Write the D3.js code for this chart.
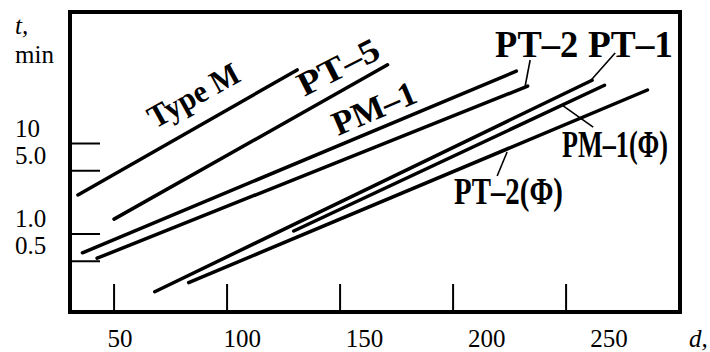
<!DOCTYPE html>
<html>
<head>
<meta charset="utf-8">
<script src="https://cdn.jsdelivr.net/npm/d3@7"></script>
<style>
  body { margin: 0; background: #fff; }
  svg { display: block; font-family: 'Liberation Serif', 'Times New Roman', serif; }
</style>
</head>
<body>
<svg width="710" height="352"></svg>
<script>
// d on x, t in minutes (log) on y
var series = ['Type M', 'PT-5', 'PM-1', 'PT-2', 'PT-1', 'PM-1(F)', 'PT-2(F)'];
var typeM  = [[34, 2.7],   [131, 65]];
var pt5    = [[50, 1.46],  [171, 74]];
var pm1    = [[36, 0.62],  [228, 63]];
var pt2    = [[42.5, 0.54],[233, 43]];
var pt1    = [[68, 0.23],  [261.5, 50]];
var pm1f   = [[129.5, 1.08],[267, 44]];
var pt2f   = [[83, 0.29],  [286, 39]];
var lines = [typeM, pt5, pm1, pt2, pt1, pm1f, pt2f];

var xTicks = [50, 100, 150, 200, 250];
var yTicks = [0.5, 1, 5, 10];
var yTickLabels = ['0.5', '1.0', '5.0', '10'];

// labels on the curves: [text, d, t, angle, size, length]
var labels = [
  ['Type M', 68.1, 14.5, -29, 32, 100],
  ['PT\u20135', 134.1, 32.6, -27, 34, 88],
  ['PM\u20131', 149.1, 12.1, -23, 34, 88],
  ['PT\u20132', 218.6, 90.3, 0, 37, 83],
  ['PT\u20131', 259.7, 90.3, 0, 37, 85],
  ['PM\u20131(\u03A6)', 248.2, 7.09, 0, 37, 106],
  ['PT\u20132(\u03A6)', 200.4, 2.15, 0, 37, 109]
];
// leader lines: [d1, t1, d2, t2]
var leaders = [
  [234.1, 83.7, 231.9, 43.2],
  [271.7, 100, 261.1, 50.3],
  [248.7, 26.0, 262.0, 15.2],
  [223.9, 8.06, 219.5, 4.37]
];

var mLeft = 70, mTop = 12, mRight = 680, mBottom = 312;

var svg = d3.select('svg');

var x = d3.scaleLinear().domain([30.5, 300.4]).range([mLeft, mRight]);
var y = d3.scaleLog().domain([0.1375, 283.8]).range([mBottom, mTop]);
// the printed numbers under the axis sit a bit off the ticks
var xLab = d3.scaleLinear().domain([50, 250]).range([120, 609]);

var line = d3.line()
  .x(function(d) { return x(d[0]); })
  .y(function(d) { return y(d[1]); });

svg.append('g').selectAll('path').data(lines).enter().append('path')
  .attr('d', line)
  .attr('fill', 'none')
  .attr('stroke', '#000')
  .attr('stroke-width', 3.5)
  .attr('stroke-linecap', 'round');

svg.append('g').selectAll('line').data(leaders).enter().append('line')
  .attr('x1', function(d) { return x(d[0]); })
  .attr('y1', function(d) { return y(d[1]); })
  .attr('x2', function(d) { return x(d[2]); })
  .attr('y2', function(d) { return y(d[3]); })
  .attr('stroke', '#000')
  .attr('stroke-width', 1.6);

svg.append('g').selectAll('text').data(labels).enter().append('text')
  .attr('transform', function(d) {
    return 'translate(' + [x(d[1]), y(d[2])].join(',') + ') rotate(' + d[3] + ')';
  })
  .attr('font-size', function(d) { return d[4]; })
  .attr('font-weight', 'bold')
  .attr('textLength', function(d) { return d[5]; })
  .attr('lengthAdjust', 'spacingAndGlyphs')
  .text(function(d) { return d[0]; });

// frame
svg.append('rect')
  .attr('x', mLeft).attr('y', mTop)
  .attr('width', mRight - mLeft).attr('height', mBottom - mTop)
  .attr('fill', 'none').attr('stroke', '#000').attr('stroke-width', 4);

// ticks drawn inward
svg.append('g').selectAll('line').data(xTicks).enter().append('line')
  .attr('x1', x).attr('x2', x)
  .attr('y1', mBottom).attr('y2', mBottom - 28)
  .attr('stroke', '#000').attr('stroke-width', 2);

svg.append('g').selectAll('line').data(yTicks).enter().append('line')
  .attr('x1', mLeft).attr('x2', mLeft + 30)
  .attr('y1', y).attr('y2', y)
  .attr('stroke', '#000').attr('stroke-width', 2);

svg.append('g').selectAll('text').data(xTicks).enter().append('text')
  .attr('x', xLab)
  .attr('y', 347)
  .attr('text-anchor', 'middle')
  .attr('font-size', 25)
  .text(function(d) { return d; });

svg.append('g').selectAll('text').data(yTicks).enter().append('text')
  .attr('x', 15)
  .attr('y', function(d) { return y(d) - 7; })
  .attr('font-size', 25)
  .text(function(d, i) { return yTickLabels[i]; });

svg.append('text').attr('x', 15).attr('y', 34)
  .attr('font-size', 25).attr('font-style', 'italic').text('t,');
svg.append('text').attr('x', 15).attr('y', 63)
  .attr('font-size', 25).text('min');
svg.append('text').attr('x', 689).attr('y', 347)
  .attr('font-size', 25).attr('font-style', 'italic').text('d,');
</script>
</body>
</html>
